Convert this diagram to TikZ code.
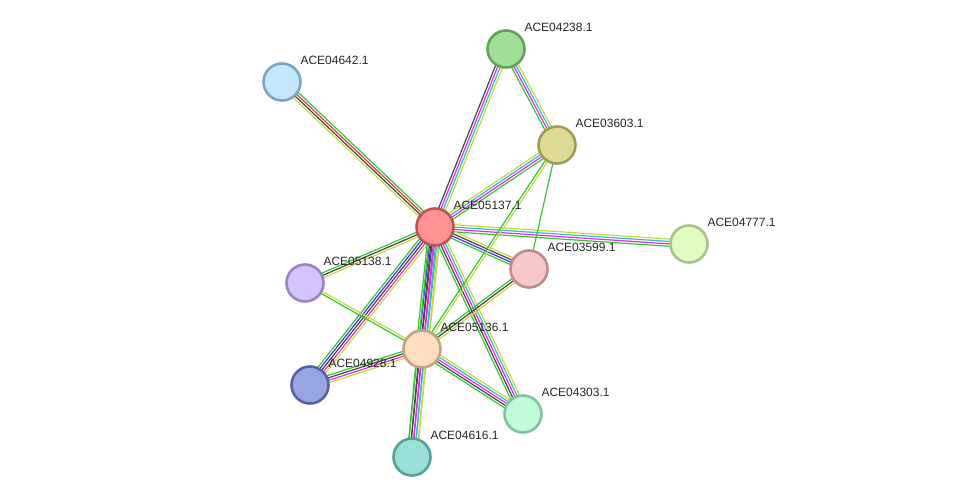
\documentclass[tikz,border=0pt]{standalone}
\usepackage{fontspec}
\setmainfont{Liberation Sans}
\usetikzlibrary{calc,backgrounds}

% evidence colours
\definecolor{lgreen}{HTML}{3AC23A}
\definecolor{lred}{HTML}{E63A3A}
\definecolor{lgrey}{HTML}{474747}
\definecolor{lyellow}{HTML}{C5D83E}
\definecolor{lcyan}{HTML}{3CB4E2}
\definecolor{lmagenta}{HTML}{DC30DC}
\definecolor{lblue}{HTML}{3A3AE6}

% bundle of parallel lines between two nodes
\newcommand{\linkset}[3]{%
  \foreach \lc [count=\li] in {#3} {\xdef\lcount{\li}}%
  \foreach \lc [count=\li] in {#3} {
    \pgfmathsetmacro\lshift{(\li-(\lcount+1)/2)*2.4}
    \draw[link, \lc] ($(#1.center)!\lshift pt!90:(#2.center)$) -- ($(#2.center)!\lshift pt!-90:(#1.center)$);
  }}

\begin{document}
\begin{tikzpicture}[x=1pt, y=-1pt,
    prot/.style={circle, minimum size=37pt, inner sep=0pt, line width=2.6pt},
    link/.style={line width=1.2pt},
    tag/.style={inner sep=0pt, xshift=-1.5pt, yshift=22pt, font=\fontsize{12}{14}\selectfont, text=black!85},
    lbl/.style={label={[tag]right:#1}}]
    \useasboundingbox (0,0) rectangle (975,502);

    % Define the proteins
    \node[prot, fill={rgb,255:red,255;green,146;blue,146}, draw={rgb,255:red,190;green,84;blue,84}, lbl=ACE05137.1] (ace5137) at (435,227) {};
    \node[prot, fill={rgb,255:red,161;green,223;blue,151}, draw={rgb,255:red,100;green,162;blue,92}, lbl=ACE04238.1] (ace4238) at (506,49) {};
    \node[prot, fill={rgb,255:red,222;green,219;blue,151}, draw={rgb,255:red,158;green,157;blue,90}, lbl=ACE03603.1] (ace3603) at (557,145) {};
    \node[prot, fill={rgb,255:red,195;green,232;blue,253}, draw={rgb,255:red,124;green,166;blue,191}, lbl=ACE04642.1] (ace4642) at (282,82) {};
    \node[prot, fill={rgb,255:red,224;green,252;blue,192}, draw={rgb,255:red,168;green,196;blue,138}, lbl=ACE04777.1] (ace4777) at (689,244) {};
    \node[prot, fill={rgb,255:red,247;green,200;blue,200}, draw={rgb,255:red,189;green,139;blue,139}, lbl=ACE03599.1] (ace3599) at (529,269) {};
    \node[prot, fill={rgb,255:red,212;green,195;blue,252}, draw={rgb,255:red,155;green,132;blue,198}, lbl=ACE05138.1] (ace5138) at (305,283) {};
    \node[prot, fill={rgb,255:red,253;green,222;blue,192}, draw={rgb,255:red,194;green,163;blue,131}, lbl=ACE05136.1] (ace5136) at (422,349) {};
    \node[prot, fill={rgb,255:red,152;green,165;blue,224}, draw={rgb,255:red,86;green,98;blue,162}, lbl=ACE04928.1] (ace4928) at (310,385) {};
    \node[prot, fill={rgb,255:red,192;green,252;blue,216}, draw={rgb,255:red,127;green,194;blue,158}, lbl=ACE04303.1] (ace4303) at (523,414) {};
    \node[prot, fill={rgb,255:red,152;green,224;blue,216}, draw={rgb,255:red,90;green,158;blue,152}, lbl=ACE04616.1] (ace4616) at (412,457) {};

    % Draw the interactions behind the proteins
    \begin{scope}[on background layer]
        \linkset{ace5137}{ace4642}{lgreen,lred,lgrey,lyellow}
        \linkset{ace5137}{ace4238}{lyellow,lcyan,lmagenta,lgrey}
        \linkset{ace4238}{ace3603}{lgreen,lmagenta,lcyan,lyellow}
        \linkset{ace5137}{ace3603}{lgreen,lmagenta,lcyan,lyellow}
        \linkset{ace5137}{ace4777}{lgreen,lmagenta,lcyan,lyellow}
        \linkset{ace5137}{ace3599}{lgreen,lblue,lgrey,lyellow}
        \linkset{ace5137}{ace5138}{lgreen,lgrey,lyellow}
        \linkset{ace5137}{ace4928}{lgreen,lblue,lgrey,lmagenta,lyellow}
        \linkset{ace5137}{ace5136}{lgreen,lblue,lgrey,lmagenta,lcyan,lyellow}
        \linkset{ace5137}{ace4616}{lgreen,lgrey,lmagenta,lcyan,lyellow}
        \linkset{ace5137}{ace4303}{lgreen,lgrey,lmagenta,lcyan,lyellow}
        \linkset{ace3603}{ace5136}{lgreen,lyellow}
        \linkset{ace3603}{ace3599}{lgreen}
        \linkset{ace3599}{ace5136}{lgreen,lgrey,lyellow}
        \linkset{ace5138}{ace5136}{lgreen,lyellow}
        \linkset{ace5136}{ace4928}{lgreen,lgrey,lmagenta,lyellow}
        \linkset{ace5136}{ace4303}{lgreen,lgrey,lmagenta,lcyan,lyellow}
        \linkset{ace5136}{ace4616}{lgreen,lgrey,lmagenta,lcyan,lyellow}
    \end{scope}
\end{tikzpicture}
\end{document}
